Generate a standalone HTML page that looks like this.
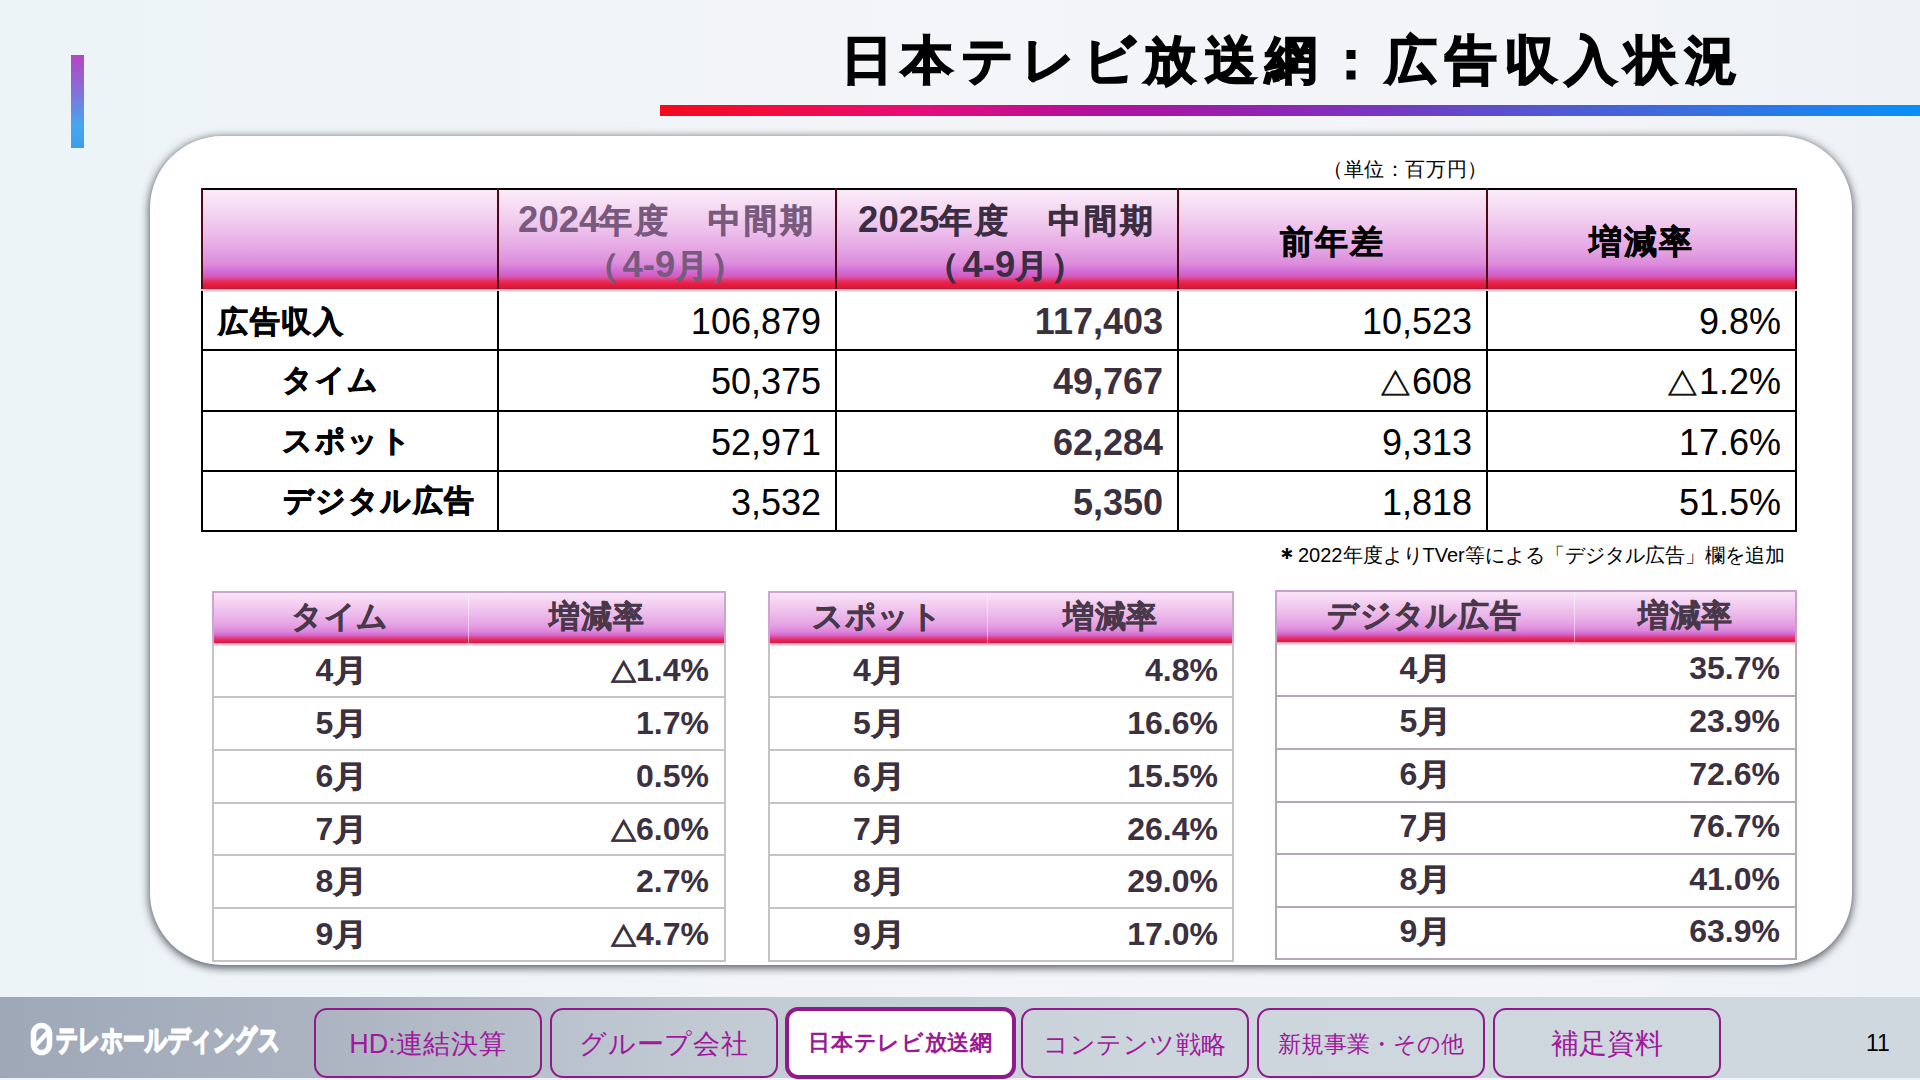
<!DOCTYPE html>
<html lang="ja">
<head>
<meta charset="utf-8">
<style>
*{margin:0;padding:0;box-sizing:border-box;}
html,body{width:1920px;height:1080px;overflow:hidden;}
body{position:relative;font-family:"Liberation Sans",sans-serif;color:#000;
 background:linear-gradient(90deg,#ecf4f7 0%,#f0f4f7 25%,#f4f5f8 50%,#f3f4f7 80%,#edf2f6 100%);}
.abs{position:absolute;}
.t{position:absolute;white-space:nowrap;}
#accent{left:71px;top:55px;width:13px;height:93px;background:linear-gradient(180deg,#b447c4 0%,#8a6ad6 35%,#45a6f2 75%,#3d9ee8 100%);}
#gline{left:660px;top:105px;width:1260px;height:11px;background:linear-gradient(90deg,#f40a1c 0%,#f20c3a 8%,#e80c78 20%,#b0109c 35%,#8a28b8 51%,#5a50cc 67%,#3870e0 83%,#0890f8 100%);}
#card{left:150px;top:136px;width:1702px;height:829px;background:#fff;border-radius:72px;box-shadow:0 2px 8px 1px rgba(20,25,35,0.7);}
.mh{position:absolute;background:linear-gradient(180deg,#fbeefb 0%,#f6dcf3 18%,#eec2ec 40%,#e5a6e3 60%,#dc8cdc 75%,#d068d4 83.5%,#d858b0 88%,#e43060 92%,#ea1c40 95%,#d81a3a 99%,#b01830 100%);}
.ln{position:absolute;background:#000;}
.r{text-align:right;}
.ctr{text-align:center;}
.b{font-weight:bold;}
.sh{position:absolute;background:linear-gradient(180deg,#fbe8fb 0%,#f4d2f1 22%,#ecbaea 45%,#e5a2e4 65%,#dc86dc 78%,#d466cc 85%,#e03a78 91%,#e41e4a 97%,#d81a44 100%);}
.sl{position:absolute;}
.sc{position:absolute;white-space:nowrap;font-size:32px;line-height:36px;font-weight:bold;color:#3b3140;}
.shc{position:absolute;white-space:nowrap;font-size:32px;line-height:36px;font-weight:bold;color:#48384a;text-align:center;}
#nav{left:0;top:997px;width:1920px;height:81px;background:linear-gradient(90deg,#9ea8b6 0%,#aab2c0 15%,#c0c8d2 35%,#cdd5dd 60%,#d0d8df 100%);}
.tab{position:absolute;top:1008px;height:70px;width:228px;border:2px solid #901a8c;border-radius:13px;color:#a0199c;text-align:center;line-height:68px;white-space:nowrap;}
</style>
</head>
<body>
<div id="accent" class="abs"></div>
<div class="t b" style="left:841px;top:25px;font-size:52px;line-height:70px;-webkit-text-stroke:1.6px #000"><span style="font-size:52.4px;letter-spacing:8.1px;">日本テレビ放送網：広告収入状況</span></div>
<div id="gline" class="abs"></div>
<div id="card" class="abs"></div>
<div class="t" style="left:1323px;top:157px;font-size:19px;line-height:24px"><span style="font-size:19.5px;letter-spacing:0.6px;">（単位：百万円）</span></div>
<div class="mh" style="left:201px;top:188px;width:1596px;height:101px"></div>
<div class="abs" style="left:201px;top:289px;width:1596px;height:3px;background:linear-gradient(180deg,#f4a0b4,#fdf0f3)"></div>
<div class="ln" style="left:201px;top:188px;width:1596px;height:2px"></div>
<div class="ln" style="left:201px;top:530px;width:1596px;height:2px"></div>
<div class="ln" style="left:201px;top:349px;width:1596px;height:2px"></div>
<div class="ln" style="left:201px;top:410px;width:1596px;height:2px"></div>
<div class="ln" style="left:201px;top:470px;width:1596px;height:2px"></div>
<div class="ln" style="left:201px;top:188px;width:2px;height:101px;background:#500814"></div>
<div class="ln" style="left:201px;top:291px;width:2px;height:241px"></div>
<div class="ln" style="left:497px;top:188px;width:2px;height:101px;background:#500814"></div>
<div class="ln" style="left:497px;top:291px;width:2px;height:241px"></div>
<div class="ln" style="left:835px;top:188px;width:2px;height:101px;background:#500814"></div>
<div class="ln" style="left:835px;top:291px;width:2px;height:241px"></div>
<div class="ln" style="left:1177px;top:188px;width:2px;height:101px;background:#500814"></div>
<div class="ln" style="left:1177px;top:291px;width:2px;height:241px"></div>
<div class="ln" style="left:1486px;top:188px;width:2px;height:101px;background:#500814"></div>
<div class="ln" style="left:1486px;top:291px;width:2px;height:241px"></div>
<div class="ln" style="left:1795px;top:188px;width:2px;height:101px;background:#500814"></div>
<div class="ln" style="left:1795px;top:291px;width:2px;height:241px"></div>
<div class="t b ctr" style="left:499px;width:336px;top:198px;font-size:36.5px;line-height:44px;color:#775a7d">2024<span style="font-size:33px;letter-spacing:3.1px;-webkit-text-stroke:0.6px currentColor;">年度　中間期</span><br><span style="font-size:33px;letter-spacing:3.1px;-webkit-text-stroke:0.6px currentColor;">（</span>4-9<span style="font-size:33px;letter-spacing:3.1px;-webkit-text-stroke:0.6px currentColor;">月）</span></div>
<div class="t b ctr" style="left:837px;width:340px;top:198px;font-size:36.5px;line-height:44px;color:#3b2e42">2025<span style="font-size:33px;letter-spacing:3.1px;-webkit-text-stroke:0.6px currentColor;">年度　中間期</span><br><span style="font-size:33px;letter-spacing:3.1px;-webkit-text-stroke:0.6px currentColor;">（</span>4-9<span style="font-size:33px;letter-spacing:3.1px;-webkit-text-stroke:0.6px currentColor;">月）</span></div>
<div class="t b ctr" style="left:1179px;width:307px;top:219px;font-size:36.5px;line-height:44px;color:#000"><span style="font-size:33px;letter-spacing:2px;-webkit-text-stroke:0.6px currentColor;">前年差</span></div>
<div class="t b ctr" style="left:1488px;width:307px;top:219px;font-size:36.5px;line-height:44px;color:#000"><span style="font-size:33px;letter-spacing:2px;-webkit-text-stroke:0.6px currentColor;">増減率</span></div>
<div class="t b" style="left:218px;top:299.6px;font-size:36px;line-height:40px"><span style="font-size:30px;letter-spacing:1.6px;-webkit-text-stroke:0.7px #000;">広告収入</span></div>
<div class="t r " style="left:499px;width:322px;top:301.6px;font-size:36px;line-height:40px;color:#000">106,879</div>
<div class="t r b" style="left:837px;width:326px;top:301.6px;font-size:36px;line-height:40px;color:#3b3040">117,403</div>
<div class="t r " style="left:1179px;width:293px;top:301.6px;font-size:36px;line-height:40px;color:#000">10,523</div>
<div class="t r " style="left:1488px;width:293px;top:301.6px;font-size:36px;line-height:40px;color:#000">9.8%</div>
<div class="t b" style="left:282px;top:358.20000000000005px;font-size:36px;line-height:40px"><span style="font-size:30px;letter-spacing:1.6px;-webkit-text-stroke:0.7px #000;">タイム</span></div>
<div class="t r " style="left:499px;width:322px;top:362.20000000000005px;font-size:36px;line-height:40px;color:#000">50,375</div>
<div class="t r b" style="left:837px;width:326px;top:362.20000000000005px;font-size:36px;line-height:40px;color:#3b3040">49,767</div>
<div class="t r " style="left:1179px;width:293px;top:362.20000000000005px;font-size:36px;line-height:40px;color:#000"><span style="display:inline-block;font-size:31.2px;transform:scaleX(1.12);transform-origin:50% 50%;margin-right:1.3px;-webkit-text-stroke:0.6px currentColor;">△</span>608</div>
<div class="t r " style="left:1488px;width:293px;top:362.20000000000005px;font-size:36px;line-height:40px;color:#000"><span style="display:inline-block;font-size:31.2px;transform:scaleX(1.12);transform-origin:50% 50%;margin-right:1.3px;-webkit-text-stroke:0.6px currentColor;">△</span>1.2%</div>
<div class="t b" style="left:282px;top:418.8px;font-size:36px;line-height:40px"><span style="font-size:30px;letter-spacing:1.6px;-webkit-text-stroke:0.7px #000;">スポット</span></div>
<div class="t r " style="left:499px;width:322px;top:422.8px;font-size:36px;line-height:40px;color:#000">52,971</div>
<div class="t r b" style="left:837px;width:326px;top:422.8px;font-size:36px;line-height:40px;color:#3b3040">62,284</div>
<div class="t r " style="left:1179px;width:293px;top:422.8px;font-size:36px;line-height:40px;color:#000">9,313</div>
<div class="t r " style="left:1488px;width:293px;top:422.8px;font-size:36px;line-height:40px;color:#000">17.6%</div>
<div class="t b" style="left:282.5px;top:479.40000000000003px;font-size:36px;line-height:40px"><span style="font-size:30px;letter-spacing:1.6px;-webkit-text-stroke:0.7px #000;">デジタル広告</span></div>
<div class="t r " style="left:499px;width:322px;top:483.40000000000003px;font-size:36px;line-height:40px;color:#000">3,532</div>
<div class="t r b" style="left:837px;width:326px;top:483.40000000000003px;font-size:36px;line-height:40px;color:#3b3040">5,350</div>
<div class="t r " style="left:1179px;width:293px;top:483.40000000000003px;font-size:36px;line-height:40px;color:#000">1,818</div>
<div class="t r " style="left:1488px;width:293px;top:483.40000000000003px;font-size:36px;line-height:40px;color:#000">51.5%</div>
<div class="t" style="left:1275px;top:541px;font-size:20px;line-height:26px"><span style="font-size:24px;font-weight:bold;position:relative;top:3px;margin-right:-1px">＊</span>2022<span style="font-size:20px;">年度より</span>TVer<span style="font-size:20px;">等による「デジタル広告」欄を追加</span></div>
<div class="sh" style="left:212px;top:591px;width:514px;height:52px"></div>
<div class="abs" style="left:212px;top:643px;width:514px;height:3px;background:linear-gradient(180deg,#f590b0,#fde8ee)"></div>
<div class="abs" style="left:468px;top:591px;width:1px;height:52px;background:rgba(255,255,255,0.5)"></div>
<div class="sl" style="left:212px;top:591px;width:514px;height:2px;background:#cba6cf"></div>
<div class="sl" style="left:212px;top:591px;width:2px;height:52px;background:#cba6cf"></div>
<div class="sl" style="left:724px;top:591px;width:2px;height:52px;background:#cba6cf"></div>
<div class="sl" style="left:212px;top:643px;width:2px;height:319px;background:#c4c4c4"></div>
<div class="sl" style="left:724px;top:643px;width:2px;height:319px;background:#c4c4c4"></div>
<div class="sl" style="left:212px;top:696px;width:514px;height:2px;background:#c4c4c4"></div>
<div class="sl" style="left:212px;top:749px;width:514px;height:2px;background:#c4c4c4"></div>
<div class="sl" style="left:212px;top:802px;width:514px;height:2px;background:#c4c4c4"></div>
<div class="sl" style="left:212px;top:854px;width:514px;height:2px;background:#c4c4c4"></div>
<div class="sl" style="left:212px;top:907px;width:514px;height:2px;background:#c4c4c4"></div>
<div class="sl" style="left:212px;top:960px;width:514px;height:2px;background:#c4c4c4"></div>
<div class="shc" style="left:212px;width:256px;top:598px"><span style="font-size:31px;letter-spacing:0.7px;-webkit-text-stroke:0.5px currentColor;">タイム</span></div>
<div class="shc" style="left:468px;width:258px;top:598px"><span style="font-size:31px;letter-spacing:0.7px;-webkit-text-stroke:0.5px currentColor;">増減率</span></div>
<div class="sc" style="left:281px;width:120px;text-align:center;top:652.0px">4<span style="display:inline-block;font-size:30.5px;transform:scaleX(1.12);margin-left:2px;-webkit-text-stroke:0.5px currentColor">月</span></div>
<div class="sc" style="left:509px;width:200px;text-align:right;top:652.0px"><span style="display:inline-block;font-size:26px;transform:scaleX(1.12);transform-origin:50% 50%;margin-right:-1px;-webkit-text-stroke:0.5px currentColor;">△</span>1.4%</div>
<div class="sc" style="left:281px;width:120px;text-align:center;top:705.0px">5<span style="display:inline-block;font-size:30.5px;transform:scaleX(1.12);margin-left:2px;-webkit-text-stroke:0.5px currentColor">月</span></div>
<div class="sc" style="left:509px;width:200px;text-align:right;top:705.0px">1.7%</div>
<div class="sc" style="left:281px;width:120px;text-align:center;top:758.0px">6<span style="display:inline-block;font-size:30.5px;transform:scaleX(1.12);margin-left:2px;-webkit-text-stroke:0.5px currentColor">月</span></div>
<div class="sc" style="left:509px;width:200px;text-align:right;top:758.0px">0.5%</div>
<div class="sc" style="left:281px;width:120px;text-align:center;top:810.5px">7<span style="display:inline-block;font-size:30.5px;transform:scaleX(1.12);margin-left:2px;-webkit-text-stroke:0.5px currentColor">月</span></div>
<div class="sc" style="left:509px;width:200px;text-align:right;top:810.5px"><span style="display:inline-block;font-size:26px;transform:scaleX(1.12);transform-origin:50% 50%;margin-right:-1px;-webkit-text-stroke:0.5px currentColor;">△</span>6.0%</div>
<div class="sc" style="left:281px;width:120px;text-align:center;top:863.0px">8<span style="display:inline-block;font-size:30.5px;transform:scaleX(1.12);margin-left:2px;-webkit-text-stroke:0.5px currentColor">月</span></div>
<div class="sc" style="left:509px;width:200px;text-align:right;top:863.0px">2.7%</div>
<div class="sc" style="left:281px;width:120px;text-align:center;top:916.0px">9<span style="display:inline-block;font-size:30.5px;transform:scaleX(1.12);margin-left:2px;-webkit-text-stroke:0.5px currentColor">月</span></div>
<div class="sc" style="left:509px;width:200px;text-align:right;top:916.0px"><span style="display:inline-block;font-size:26px;transform:scaleX(1.12);transform-origin:50% 50%;margin-right:-1px;-webkit-text-stroke:0.5px currentColor;">△</span>4.7%</div>
<div class="sh" style="left:768px;top:591px;width:466px;height:52px"></div>
<div class="abs" style="left:768px;top:643px;width:466px;height:3px;background:linear-gradient(180deg,#f590b0,#fde8ee)"></div>
<div class="abs" style="left:987px;top:591px;width:1px;height:52px;background:rgba(255,255,255,0.5)"></div>
<div class="sl" style="left:768px;top:591px;width:466px;height:2px;background:#cba6cf"></div>
<div class="sl" style="left:768px;top:591px;width:2px;height:52px;background:#cba6cf"></div>
<div class="sl" style="left:1232px;top:591px;width:2px;height:52px;background:#cba6cf"></div>
<div class="sl" style="left:768px;top:643px;width:2px;height:319px;background:#c4c4c4"></div>
<div class="sl" style="left:1232px;top:643px;width:2px;height:319px;background:#c4c4c4"></div>
<div class="sl" style="left:768px;top:696px;width:466px;height:2px;background:#c4c4c4"></div>
<div class="sl" style="left:768px;top:749px;width:466px;height:2px;background:#c4c4c4"></div>
<div class="sl" style="left:768px;top:802px;width:466px;height:2px;background:#c4c4c4"></div>
<div class="sl" style="left:768px;top:854px;width:466px;height:2px;background:#c4c4c4"></div>
<div class="sl" style="left:768px;top:907px;width:466px;height:2px;background:#c4c4c4"></div>
<div class="sl" style="left:768px;top:960px;width:466px;height:2px;background:#c4c4c4"></div>
<div class="shc" style="left:768px;width:219px;top:598px"><span style="font-size:31px;letter-spacing:0.7px;-webkit-text-stroke:0.5px currentColor;">スポット</span></div>
<div class="shc" style="left:987px;width:247px;top:598px"><span style="font-size:31px;letter-spacing:0.7px;-webkit-text-stroke:0.5px currentColor;">増減率</span></div>
<div class="sc" style="left:818.5px;width:120px;text-align:center;top:652.0px">4<span style="display:inline-block;font-size:30.5px;transform:scaleX(1.12);margin-left:2px;-webkit-text-stroke:0.5px currentColor">月</span></div>
<div class="sc" style="left:1018px;width:200px;text-align:right;top:652.0px">4.8%</div>
<div class="sc" style="left:818.5px;width:120px;text-align:center;top:705.0px">5<span style="display:inline-block;font-size:30.5px;transform:scaleX(1.12);margin-left:2px;-webkit-text-stroke:0.5px currentColor">月</span></div>
<div class="sc" style="left:1018px;width:200px;text-align:right;top:705.0px">16.6%</div>
<div class="sc" style="left:818.5px;width:120px;text-align:center;top:758.0px">6<span style="display:inline-block;font-size:30.5px;transform:scaleX(1.12);margin-left:2px;-webkit-text-stroke:0.5px currentColor">月</span></div>
<div class="sc" style="left:1018px;width:200px;text-align:right;top:758.0px">15.5%</div>
<div class="sc" style="left:818.5px;width:120px;text-align:center;top:810.5px">7<span style="display:inline-block;font-size:30.5px;transform:scaleX(1.12);margin-left:2px;-webkit-text-stroke:0.5px currentColor">月</span></div>
<div class="sc" style="left:1018px;width:200px;text-align:right;top:810.5px">26.4%</div>
<div class="sc" style="left:818.5px;width:120px;text-align:center;top:863.0px">8<span style="display:inline-block;font-size:30.5px;transform:scaleX(1.12);margin-left:2px;-webkit-text-stroke:0.5px currentColor">月</span></div>
<div class="sc" style="left:1018px;width:200px;text-align:right;top:863.0px">29.0%</div>
<div class="sc" style="left:818.5px;width:120px;text-align:center;top:916.0px">9<span style="display:inline-block;font-size:30.5px;transform:scaleX(1.12);margin-left:2px;-webkit-text-stroke:0.5px currentColor">月</span></div>
<div class="sc" style="left:1018px;width:200px;text-align:right;top:916.0px">17.0%</div>
<div class="sh" style="left:1275px;top:590px;width:522px;height:52px"></div>
<div class="abs" style="left:1275px;top:642px;width:522px;height:3px;background:linear-gradient(180deg,#f590b0,#fde8ee)"></div>
<div class="abs" style="left:1574px;top:590px;width:1px;height:52px;background:rgba(255,255,255,0.5)"></div>
<div class="sl" style="left:1275px;top:590px;width:522px;height:2px;background:#c8a0cc"></div>
<div class="sl" style="left:1275px;top:590px;width:2px;height:52px;background:#c8a0cc"></div>
<div class="sl" style="left:1795px;top:590px;width:2px;height:52px;background:#c8a0cc"></div>
<div class="sl" style="left:1275px;top:642px;width:2px;height:318px;background:#b6a6ba"></div>
<div class="sl" style="left:1795px;top:642px;width:2px;height:318px;background:#b6a6ba"></div>
<div class="sl" style="left:1275px;top:695px;width:522px;height:2px;background:#b6a6ba"></div>
<div class="sl" style="left:1275px;top:748px;width:522px;height:2px;background:#b6a6ba"></div>
<div class="sl" style="left:1275px;top:801px;width:522px;height:2px;background:#b6a6ba"></div>
<div class="sl" style="left:1275px;top:853px;width:522px;height:2px;background:#b6a6ba"></div>
<div class="sl" style="left:1275px;top:906px;width:522px;height:2px;background:#b6a6ba"></div>
<div class="sl" style="left:1275px;top:958px;width:522px;height:2px;background:#b6a6ba"></div>
<div class="shc" style="left:1275px;width:299px;top:597px"><span style="font-size:31px;letter-spacing:0.7px;-webkit-text-stroke:0.5px currentColor;">デジタル広告</span></div>
<div class="shc" style="left:1574px;width:223px;top:597px"><span style="font-size:31px;letter-spacing:0.7px;-webkit-text-stroke:0.5px currentColor;">増減率</span></div>
<div class="sc" style="left:1365px;width:120px;text-align:center;top:649.5px">4<span style="display:inline-block;font-size:30.5px;transform:scaleX(1.12);margin-left:2px;-webkit-text-stroke:0.5px currentColor">月</span></div>
<div class="sc" style="left:1580px;width:200px;text-align:right;top:649.5px">35.7%</div>
<div class="sc" style="left:1365px;width:120px;text-align:center;top:702.5px">5<span style="display:inline-block;font-size:30.5px;transform:scaleX(1.12);margin-left:2px;-webkit-text-stroke:0.5px currentColor">月</span></div>
<div class="sc" style="left:1580px;width:200px;text-align:right;top:702.5px">23.9%</div>
<div class="sc" style="left:1365px;width:120px;text-align:center;top:755.5px">6<span style="display:inline-block;font-size:30.5px;transform:scaleX(1.12);margin-left:2px;-webkit-text-stroke:0.5px currentColor">月</span></div>
<div class="sc" style="left:1580px;width:200px;text-align:right;top:755.5px">72.6%</div>
<div class="sc" style="left:1365px;width:120px;text-align:center;top:808.0px">7<span style="display:inline-block;font-size:30.5px;transform:scaleX(1.12);margin-left:2px;-webkit-text-stroke:0.5px currentColor">月</span></div>
<div class="sc" style="left:1580px;width:200px;text-align:right;top:808.0px">76.7%</div>
<div class="sc" style="left:1365px;width:120px;text-align:center;top:860.5px">8<span style="display:inline-block;font-size:30.5px;transform:scaleX(1.12);margin-left:2px;-webkit-text-stroke:0.5px currentColor">月</span></div>
<div class="sc" style="left:1580px;width:200px;text-align:right;top:860.5px">41.0%</div>
<div class="sc" style="left:1365px;width:120px;text-align:center;top:913.0px">9<span style="display:inline-block;font-size:30.5px;transform:scaleX(1.12);margin-left:2px;-webkit-text-stroke:0.5px currentColor">月</span></div>
<div class="sc" style="left:1580px;width:200px;text-align:right;top:913.0px">63.9%</div>
<div id="nav" class="abs"></div>
<svg class="abs" style="left:30px;top:1022px" width="24" height="35" viewBox="0 0 24 35"><rect x="3.5" y="3.5" width="16" height="27" rx="8" ry="8.5" fill="none" stroke="#fff" stroke-width="5.5"/><line x1="4" y1="25" x2="19" y2="9" stroke="#fff" stroke-width="4.5"/></svg>
<div class="abs" style="left:56px;top:1020px;font-size:30px;line-height:40px;font-weight:bold;color:#fff;white-space:nowrap;transform:scaleX(0.725);transform-origin:0 0;-webkit-text-stroke:2px #fff">テレホールディングス</div>
<div class="tab" style="left:314px;font-size:27px">HD:<span style="font-size:27px;letter-spacing:0.8px;">連結決算</span></div>
<div class="tab" style="left:550px;font-size:27px"><span style="font-size:26.5px;letter-spacing:0.8px;">グループ会社</span></div>
<div class="tab" style="left:785px;top:1007px;height:72px;width:231px;border:4px solid #901a8c;background:#fff;font-size:22px;font-weight:bold;line-height:64px;color:#9a1a96"><span style="font-size:22px;letter-spacing:0.7px;">日本テレビ放送網</span></div>
<div class="tab" style="left:1021px;font-size:25.5px"><span style="font-size:25px;letter-spacing:0.5px;">コンテンツ戦略</span></div>
<div class="tab" style="left:1257px;font-size:23px"><span style="font-size:23px;">新規事業・その他</span></div>
<div class="tab" style="left:1493px;font-size:28px"><span style="font-size:28px;">補足資料</span></div>
<div class="abs" style="left:1866px;top:1030px;font-size:23px;line-height:26px">11</div>
</body>
</html>
